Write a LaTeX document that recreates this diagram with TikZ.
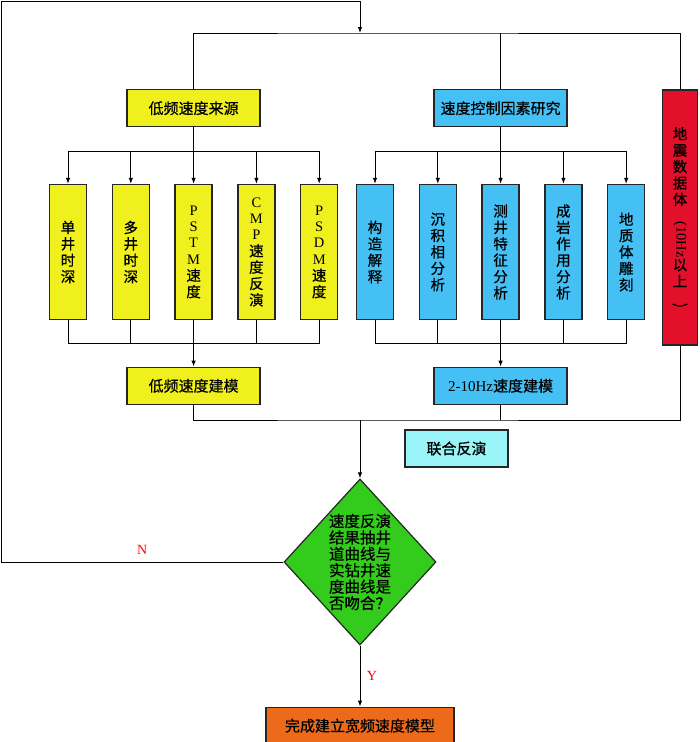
\documentclass[tikz,border=0pt]{standalone}
\usepackage{fontspec}
\setmainfont{Liberation Serif}
\newfontfamily\cjk[FakeBold=0.6]{Noto Sans CJK SC}
\usetikzlibrary{shapes.geometric, arrows.meta, positioning, calc}
\definecolor{boxyellow}{RGB}{240,240,30}
\definecolor{boxblue}{RGB}{68,192,245}
\definecolor{boxred}{RGB}{226,16,42}
\definecolor{boxgreen}{RGB}{52,204,28}
\definecolor{boxcyan}{RGB}{153,245,247}
\definecolor{boxorange}{RGB}{236,106,26}
\tikzstyle{arrow} = [-{Latex[length=6pt, width=4.5pt]}, line width=1pt, color=black]

\begin{document}
\begin{tikzpicture}[
    x=1pt, y=-1pt, line width=1pt,
    node distance=24.5pt,
    hbox/.style={rectangle, draw=black!85, line width=1.3pt, inner sep=0pt,
                 minimum width=133pt, minimum height=37pt,
                 font=\cjk\fontsize{15}{17}\selectfont},
    vbox/.style={rectangle, draw=black!85, line width=1.3pt, inner sep=0pt,
                 minimum width=37pt, minimum height=135pt, align=center,
                 font=\cjk\fontsize{14.5}{16.4}\selectfont},
    decision/.style={diamond, draw=black!85, line width=1.2pt, fill=boxgreen,
                     inner sep=0pt, minimum width=152pt, minimum height=166pt},
    yn/.style={font=\rmfamily\fontsize{14}{16}\selectfont, text=red}
]
    \useasboundingbox (0,0) rectangle (700,742);

    % Row 2: tall boxes
    \node[vbox, fill=boxyellow] (sw) at (68,252) {单\\井\\时\\深};
    \node[vbox, fill=boxyellow, right=of sw] (mw) {多\\井\\时\\深};
    \node[vbox, fill=boxyellow, right=of mw] (pstm) {\rmfamily P\\\rmfamily S\\\rmfamily T\\\rmfamily M\\速\\度};
    \node[vbox, fill=boxyellow, right=of pstm] (cmp) {\rmfamily C\\\rmfamily M\\\rmfamily P\\速\\度\\反\\演};
    \node[vbox, fill=boxyellow, right=of cmp] (psdm) {\rmfamily P\\\rmfamily S\\\rmfamily D\\\rmfamily M\\速\\度};

    \node[vbox, fill=boxblue] (struc) at (375,252) {构\\造\\解\\释};
    \node[vbox, fill=boxblue, right=of struc] (sed) {沉\\积\\相\\分\\析};
    \node[vbox, fill=boxblue, right=of sed] (logc) {测\\井\\特\\征\\分\\析};
    \node[vbox, fill=boxblue, right=of logc] (diag) {成\\岩\\作\\用\\分\\析};
    \node[vbox, fill=boxblue, right=of diag] (geob) {地\\质\\体\\雕\\刻};

    \node[vbox, fill=boxred, minimum width=35pt, minimum height=255pt] (seis) at (680,217.5)
        {地\\震\\数\\据\\体\\\rotatebox{-90}{\rmfamily(10Hz}\\以\\上\\\rotatebox{-90}{)}};

    % Row 1: sources
    \node[hbox, fill=boxyellow, above=56.5pt of pstm] (src) {低频速度来源};
    \node[hbox, fill=boxblue, above=56.5pt of logc] (ctrl) {速度控制因素研究};

    % Row 3: models
    \node[hbox, fill=boxyellow, below=46.5pt of pstm] (lowm) {低频速度建模};
    \node[hbox, fill=boxblue, below=46.5pt of logc] (midm) {{\rmfamily 2-10Hz}速度建模};
    \node[hbox, fill=boxcyan, minimum width=103pt] (joint) at (456.5,448.5) {联合反演};

    % Decision + result
    \node[decision] (check) at (360,562) {};
    \node[font=\cjk\fontsize{15.5}{16.4}\selectfont, align=center] (checktxt) at (check)
        {速度反演\\结果抽井\\道曲线与\\实钻井速\\度曲线是\\否吻合？};
    \node[hbox, fill=boxorange, minimum width=188pt, below=61pt of check] (done) {完成建立宽频速度模型};

    \coordinate (topbus) at (360,33);
    \coordinate (jbus) at (360,420);
    \coordinate (corner) at (1,1);

    % Arrows
    \draw (src.north) |- (topbus) -| (seis.north);
    \draw (ctrl.north) -- (ctrl.north |- topbus);
    \foreach \n in {sw,mw,pstm,cmp,psdm}
        \draw[arrow] (src.south) -- ++(0,24) -| (\n.north);
    \foreach \n in {struc,sed,logc,diag,geob}
        \draw[arrow] (ctrl.south) -- ++(0,24) -| (\n.north);
    \foreach \n in {sw,mw,cmp,psdm}
        \draw (\n.south) |- ($(pstm.south)!0.5!(lowm.north)$);
    \foreach \n in {struc,sed,diag,geob}
        \draw (\n.south) |- ($(logc.south)!0.5!(midm.north)$);
    \draw[arrow] (pstm.south) -- (lowm.north);
    \draw[arrow] (logc.south) -- (midm.north);
    \draw (lowm.south) |- (jbus) -| (seis.south);
    \draw (midm.south) -- (midm.south |- jbus);
    \draw[arrow] (jbus) -- (check.north);
    \draw[arrow] (check.south) -- node[yn, right=3pt] {Y} (done.north);
    \draw[arrow] (check.west) -- node[yn, above=4pt] {N} (check.west -| corner) -- (corner) -| (topbus);

\end{tikzpicture}
\end{document}
